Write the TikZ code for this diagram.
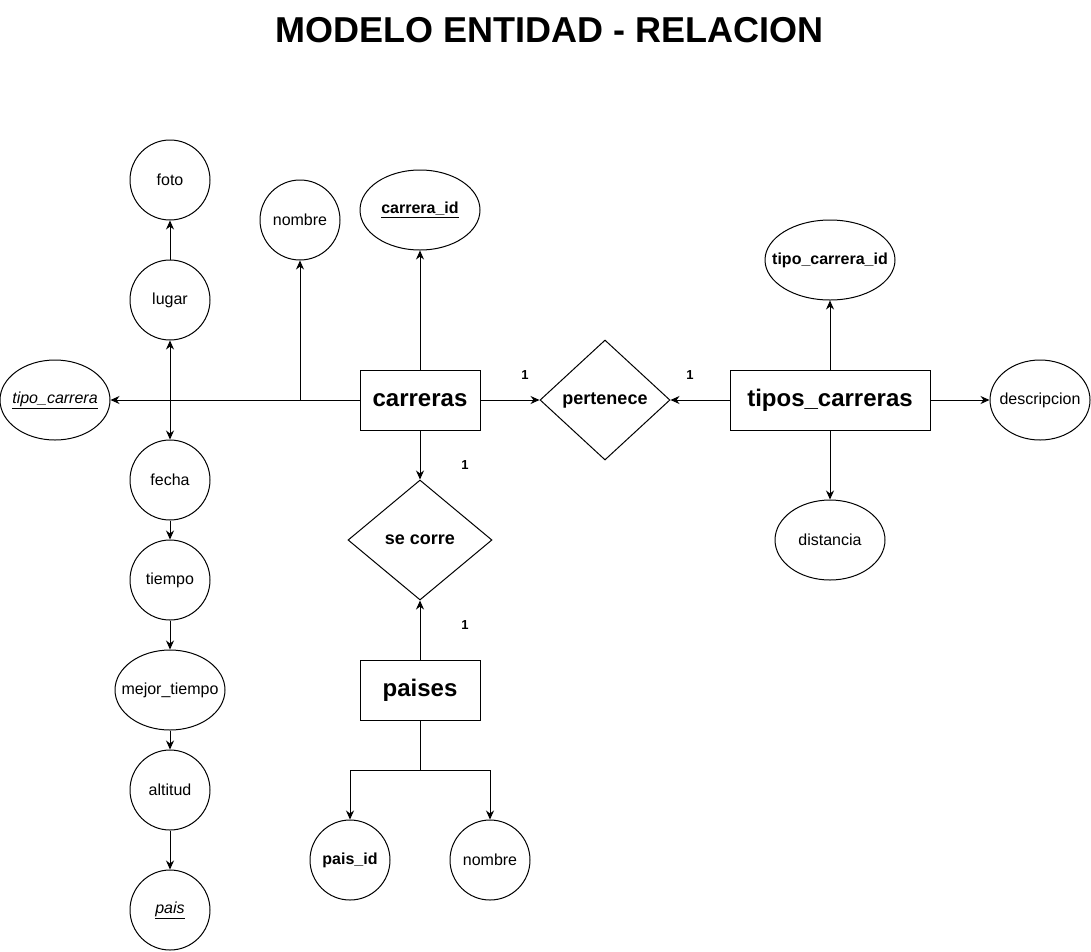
\documentclass[tikz,border=0pt]{standalone}
\usepackage{fontspec}
\setmainfont{Liberation Sans}
\usetikzlibrary{shapes.geometric,arrows.meta}
\begin{document}
\begin{tikzpicture}[x=1pt,y=-1pt,line width=1pt,
  attr/.style={draw,circle,minimum size=80pt,inner sep=0pt,font=\fontsize{16}{19}\selectfont},
  ell/.style={draw,ellipse,inner sep=0pt,minimum height=80pt,font=\fontsize{16}{19}\selectfont},
  ent/.style={draw,rectangle,inner sep=0pt,minimum height=60pt,font=\fontsize{24}{28}\selectfont\bfseries},
  rel/.style={draw,diamond,inner sep=0pt,minimum height=120pt,font=\fontsize{18}{21}\selectfont\bfseries},
  card/.style={font=\fontsize{13}{15}\selectfont\bfseries,inner sep=0pt},
  arr/.style={-{Stealth[length=9pt,width=8pt]}},
  arrb/.style={{Stealth[length=9pt,width=8pt]}-{Stealth[length=9pt,width=8pt]}}]
\useasboundingbox (0,0) rectangle (1091,951);
\node[font=\fontsize{36}{40}\selectfont\bfseries] (title) at (549.5,30) {MODELO ENTIDAD - RELACION};
% left column
\node[attr] (foto) at (170,180) {foto};
\node[attr] (lugar) at (170,300) {lugar};
\node[attr] (nombre1) at (300,220) {nombre};
\node[ell,minimum width=120pt,font=\fontsize{16}{19}\selectfont\bfseries] (carreraid) at (420,210) {\makebox[0pt]{\underline{carrera\_id}}};
\node[ell,minimum width=110pt] (tipocarrera) at (55,400) {\makebox[0pt]{\textit{\underline{tipo\_carrera}}}};
\node[attr] (fecha) at (170,480) {fecha};
\node[attr] (tiempo) at (170,580) {tiempo};
\node[ell,minimum width=110pt] (mejor) at (170,690) {\makebox[0pt]{mejor\_tiempo}};
\node[attr] (altitud) at (170,790) {altitud};
\node[attr] (pais) at (170,910) {\textit{\underline{pais}}};
% entities
\node[ent,minimum width=120pt] (carreras) at (420,400) {carreras};
\node[rel,minimum width=130pt] (pertenece) at (605,400) {\makebox[0pt]{pertenece}};
\node[ent,minimum width=200pt] (tipos) at (830,400) {tipos\_carreras};
\node[ell,minimum width=130pt,font=\fontsize{16}{19}\selectfont\bfseries] (tipoid) at (830,260) {\makebox[0pt]{tipo\_carrera\_id}};
\node[ell,minimum width=100pt] (descripcion) at (1040,400) {\makebox[0pt]{descripcion}};
\node[ell,minimum width=110pt] (distancia) at (830,540) {\makebox[0pt]{distancia}};
\node[rel,minimum width=144pt] (secorre) at (420,540) {\makebox[0pt]{se corre}};
\node[ent,minimum width=120pt] (paises) at (420,690) {paises};
\node[attr,font=\fontsize{16}{19}\selectfont\bfseries] (paisid) at (350,860) {pais\_id};
\node[attr] (nombre2) at (490,860) {nombre};
% cardinalities
\node[card] (c1) at (525,375) {1};
\node[card] (c2) at (690,375) {1};
\node[card] (c3) at (465,465) {1};
\node[card] (c4) at (465,625) {1};
% connectors
\coordinate (j1) at (300,400);
\coordinate (j2) at (420,770);
\draw[arr] (lugar) -- (foto);
\draw[arrb] (lugar) -- (fecha);
\draw[arr] (carreras.west) -- (tipocarrera.east);
\draw[arr] (j1) -- (nombre1);
\draw[arr] (carreras) -- (carreraid);
\draw[arr] (carreras) -- (pertenece);
\draw[arr] (tipos) -- (pertenece);
\draw[arr] (tipos) -- (tipoid);
\draw[arr] (tipos) -- (descripcion);
\draw[arr] (tipos) -- (distancia);
\draw[arr] (carreras) -- (secorre);
\draw[arr] (paises) -- (secorre);
\draw (paises) -- (j2);
\draw[arr] (j2) -| (paisid);
\draw[arr] (j2) -| (nombre2);
\draw[arr] (fecha) -- (tiempo);
\draw[arr] (tiempo) -- (mejor);
\draw[arr] (mejor) -- (altitud);
\draw[arr] (altitud) -- (pais);
\end{tikzpicture}
\end{document}
